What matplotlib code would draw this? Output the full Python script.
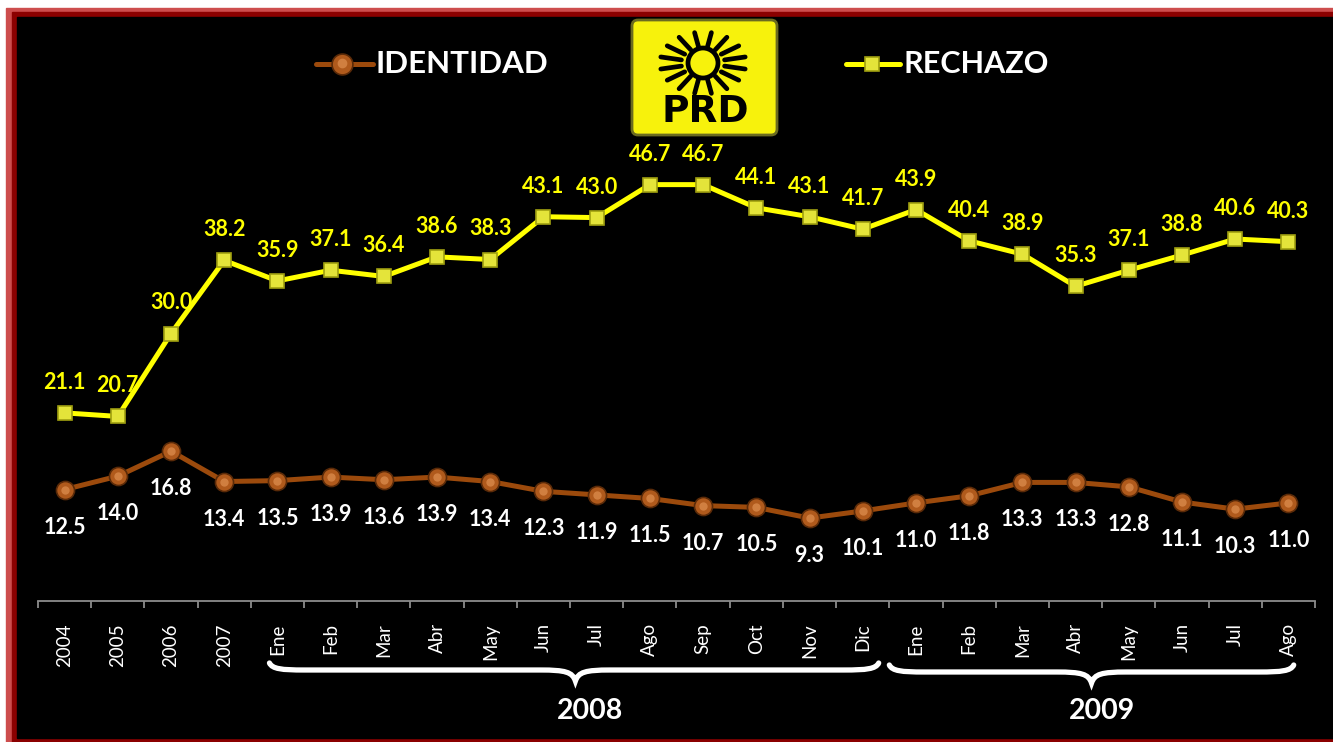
import matplotlib
matplotlib.use("Agg")
import matplotlib.pyplot as plt
from matplotlib.patches import Rectangle, FancyBboxPatch, Circle, PathPatch
from matplotlib.path import Path
from matplotlib.lines import Line2D
from matplotlib.transforms import IdentityTransform
import numpy as np

plt.rcParams['font.family'] = ['Lato', 'DejaVu Sans']

periods = ['2004', '2005', '2006', '2007',
           'Ene', 'Feb', 'Mar', 'Abr', 'May', 'Jun', 'Jul', 'Ago', 'Sep', 'Oct', 'Nov', 'Dic',
           'Ene', 'Feb', 'Mar', 'Abr', 'May', 'Jun', 'Jul', 'Ago']
rechazo = [21.1, 20.7, 30.0, 38.2, 35.9, 37.1, 36.4, 38.6, 38.3, 43.1, 43.0, 46.7,
           46.7, 44.1, 43.1, 41.7, 43.9, 40.4, 38.9, 35.3, 37.1, 38.8, 40.6, 40.3]
identidad = [12.5, 14.0, 16.8, 13.4, 13.5, 13.9, 13.6, 13.9, 13.4, 12.3, 11.9, 11.5,
             10.7, 10.5, 9.3, 10.1, 11.0, 11.8, 13.3, 13.3, 12.8, 11.1, 10.3, 11.0]
years = ['2008', '2009']

W, H = 1333, 742
fig = plt.figure(figsize=(W / 100, H / 100), dpi=100, facecolor='white')
ident = IdentityTransform()


def px(x, y):
    # pixel coords measured from top-left -> display coords
    return x, H - y


# frame: light red, dark red, black (behind the axes)
fig.patches.append(Rectangle((6, 0), W, H - 8, transform=ident, color='#cd4d4d', zorder=-3))
fig.patches.append(Rectangle((12, 0), W, H - 12, transform=ident, color='#8b0000', zorder=-2))
fig.patches.append(Rectangle((17, 4), W, H - 21, transform=ident, color='black', zorder=-1))

x = np.arange(len(periods))
ax = fig.add_axes([38 / W, (H - 601) / H, (1315 - 38) / W, (601 - 17) / H])
ax.set_facecolor('none')
ax.set_xlim(-0.5, len(periods) - 0.5)
ax.set_ylim(0, 65.5)

# lines
ax.plot(x, identidad, color='#9c4a0c', lw=3.6, zorder=3, solid_capstyle='round')
ax.plot(x, identidad, 'o', ms=13, mfc='#b05a1c', mec='#5a2a08', mew=1.2, zorder=4)
ax.plot(x, identidad, 'o', ms=6, mfc='#d9894a', mec='none', alpha=0.8, zorder=5)
ax.plot(x, rechazo, color='#ffff00', lw=3.6, zorder=3)
ax.plot(x, rechazo, 's', ms=9.5, mfc='#e4e43a', mec='#a0a010', mew=1.2, zorder=4)

for i in range(len(periods)):
    ax.annotate(f'{rechazo[i]:.1f}', (i, rechazo[i]), xytext=(0, 22), textcoords='offset points',
                ha='center', va='center', color='#ffff00', fontsize=15.5, fontweight='bold', zorder=2)
    ax.annotate(f'{identidad[i]:.1f}', (i, identidad[i]), xytext=(0, -27), textcoords='offset points',
                ha='center', va='center', color='white', fontsize=15.5, fontweight='bold', zorder=2)

# axis
for s in ['top', 'right', 'left']:
    ax.spines[s].set_visible(False)
ax.spines['bottom'].set_color('#8c8c8c')
ax.spines['bottom'].set_linewidth(1.3)
ax.set_yticks([])
ax.set_xticks(x)
ax.set_xticklabels(periods, rotation=90, color='white', fontsize=13.5)
ax.tick_params(axis='x', which='major', length=0, pad=16)
ax.set_xticks(np.arange(-0.5, len(periods)), minor=True)
ax.tick_params(axis='x', which='minor', length=5, width=1.3, color='#8c8c8c', direction='out')


def xpix(i):
    return ax.transData.transform((i, 0))[0]


def brace(x0, x1, xm, y, yend, ytip):
    verts = [(x0, yend),
             (x0 + 3, y - 1), (x0 + 12, y), (x0 + 35, y),
             (xm - 35, y),
             (xm - 10, y), (xm - 3, y + 2), (xm, ytip),
             (xm + 3, y + 2), (xm + 10, y), (xm + 35, y),
             (x1 - 35, y),
             (x1 - 12, y), (x1 - 3, y - 1), (x1, yend)]
    codes = [Path.MOVETO,
             Path.CURVE4, Path.CURVE4, Path.CURVE4,
             Path.LINETO,
             Path.CURVE4, Path.CURVE4, Path.CURVE4,
             Path.CURVE4, Path.CURVE4, Path.CURVE4,
             Path.LINETO,
             Path.CURVE4, Path.CURVE4, Path.CURVE4]
    verts = [px(a, b) for a, b in verts]
    fig.patches.append(PathPatch(Path(verts, codes), transform=ident, fill=False,
                                 edgecolor='white', lw=3.8, capstyle='round', zorder=5))


brace(xpix(3.85), xpix(15.3), xpix(9.6), 670, 663, 681)
brace(xpix(15.5), xpix(23.1), xpix(19.3), 672, 665, 683)
fig.text(590 / W, 1 - 711 / H, years[0], color='white', fontsize=20.5, fontweight='bold',
         ha='center', va='center')
fig.text(xpix(19.5) / W, 1 - 711 / H, years[1], color='white', fontsize=20.5, fontweight='bold',
         ha='center', va='center')

# legend
fig.add_artist(Line2D([316 / W, 373 / W], [1 - 64 / H] * 2, transform=fig.transFigure,
                      color='#9c4a0c', lw=3.6, solid_capstyle='round'))
fig.add_artist(Line2D([342 / W], [1 - 64 / H], transform=fig.transFigure, marker='o', ms=15,
                      mfc='#b05a1c', mec='#5a2a08', mew=1.2))
fig.add_artist(Line2D([342 / W], [1 - 63 / H], transform=fig.transFigure, marker='o', ms=7,
                      mfc='#d9894a', mec='none', alpha=0.8))
fig.text(376 / W, 1 - 64 / H, 'IDENTIDAD', color='white', fontsize=22.5, fontweight='bold',
         ha='left', va='center')
fig.add_artist(Line2D([846 / W, 900 / W], [1 - 64 / H] * 2, transform=fig.transFigure,
                      color='#ffff00', lw=3.6, solid_capstyle='round'))
fig.add_artist(Line2D([872 / W], [1 - 64 / H], transform=fig.transFigure, marker='s', ms=10,
                      mfc='#e4e43a', mec='#a0a010', mew=1.2))
fig.text(904 / W, 1 - 64 / H, 'RECHAZO', color='white', fontsize=22, fontweight='bold',
         ha='left', va='center')

# PRD logo
bx, by = px(632, 135)
fig.patches.append(FancyBboxPatch((bx, by), 145, 115, boxstyle='round,pad=0,rounding_size=6',
                                  transform=ident, facecolor='#f7f20c', edgecolor='#6b6b20',
                                  lw=2, zorder=6))
cx, cy = px(703, 63)
fig.patches.append(Circle((cx, cy), 15, transform=ident, fill=False, edgecolor='black',
                          lw=3.4, zorder=7))
for a in np.linspace(0, 2 * np.pi, 17)[:-1] + np.pi / 16:
    r0, r1 = 22, 43
    fig.add_artist(Line2D([cx + r0 * np.cos(a), cx + r1 * np.cos(a)],
                          [cy + 0.72 * r0 * np.sin(a), cy + 0.72 * r1 * np.sin(a)],
                          transform=ident, color='black', lw=3.4, solid_capstyle='round',
                          zorder=7))
fig.text(705 / W, 1 - 112 / H, 'PRD', color='black', fontsize=27, fontweight='heavy',
         ha='center', va='center', zorder=8, family=['DejaVu Sans'])

fig.savefig('out.png', dpi=100, facecolor=fig.get_facecolor())
